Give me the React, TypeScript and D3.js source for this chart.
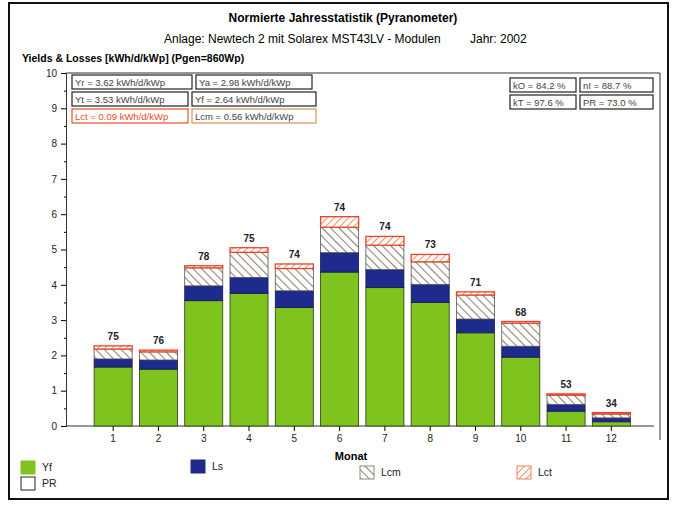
import React, { useEffect, useRef } from 'react';
import * as d3 from 'd3';

// monthly values (kWh/d/kWp)
const months = ['1', '2', '3', '4', '5', '6', '7', '8', '9', '10', '11', '12'];
const yf = [1.67, 1.61, 3.55, 3.76, 3.36, 4.36, 3.92, 3.5, 2.64, 1.95, 0.42, 0.12];
const ls = [0.23, 0.26, 0.42, 0.45, 0.47, 0.55, 0.51, 0.51, 0.39, 0.31, 0.19, 0.11];
const lcm = [0.28, 0.23, 0.51, 0.71, 0.63, 0.72, 0.69, 0.64, 0.68, 0.65, 0.26, 0.11];
const lct = [0.09, 0.05, 0.06, 0.13, 0.13, 0.3, 0.25, 0.21, 0.09, 0.05, 0.04, 0.04];
const pr = [75, 76, 78, 75, 74, 74, 74, 73, 71, 68, 53, 34];
const yTicks = [0, 1, 2, 3, 4, 5, 6, 7, 8, 9, 10];

const infoLeft = [
  ['Yr = 3.62 kWh/d/kWp', 'Ya = 2.98 kWh/d/kWp'],
  ['Yt = 3.53 kWh/d/kWp', 'Yf = 2.64 kWh/d/kWp'],
  ['Lct = 0.09 kWh/d/kWp', 'Lcm = 0.56 kWh/d/kWp'],
];
const infoRight = [
  ['kO = 84.2 %', 'nI = 88.7 %'],
  ['kT = 97.6 %', 'PR = 73.0 %'],
];

const W = 675;
const H = 506;
const FONT = 'Liberation Sans, Arial, sans-serif';

const Chart = () => {
  const ref = useRef<SVGSVGElement>(null);

  useEffect(() => {
    document.body.style.margin = '0';
    const svg = d3.select(ref.current);
    svg.selectAll('*').remove();

    const left = 66, right = 660, top = 73, bottom = 426;

    // hatch patterns
    const defs = svg.append('defs');
    const pLcm = defs.append('pattern').attr('id', 'lcm').attr('patternUnits', 'userSpaceOnUse')
      .attr('width', 6).attr('height', 6).attr('patternTransform', 'rotate(-45)');
    pLcm.append('rect').attr('width', 6).attr('height', 6).attr('fill', '#fff');
    pLcm.append('line').attr('x1', 0).attr('y1', 0).attr('x2', 0).attr('y2', 6)
      .attr('stroke', '#8f8676').attr('stroke-width', 2.2);
    const pLct = defs.append('pattern').attr('id', 'lct').attr('patternUnits', 'userSpaceOnUse')
      .attr('width', 5).attr('height', 5).attr('patternTransform', 'rotate(45)');
    pLct.append('rect').attr('width', 5).attr('height', 5).attr('fill', '#fff');
    pLct.append('line').attr('x1', 0).attr('y1', 0).attr('x2', 0).attr('y2', 5)
      .attr('stroke', '#f2804e').attr('stroke-width', 1.8);

    // outer frame
    svg.append('rect').attr('x', 9).attr('y', 3).attr('width', 659).attr('height', 496)
      .attr('fill', '#fff').attr('stroke', '#111').attr('stroke-width', 2);

    // titles
    svg.append('text').attr('x', 343).attr('y', 22).attr('text-anchor', 'middle')
      .style('font-family', FONT).style('font-size', '12px').style('font-weight', 'bold')
      .text('Normierte Jahresstatistik (Pyranometer)');
    svg.append('text').attr('x', 164).attr('y', 43)
      .style('font-family', FONT).style('font-size', '12px')
      .text('Anlage: Newtech 2 mit Solarex MST43LV - Modulen');
    svg.append('text').attr('x', 470).attr('y', 43)
      .style('font-family', FONT).style('font-size', '12px')
      .text('Jahr: 2002');
    svg.append('text').attr('x', 22).attr('y', 62)
      .style('font-family', FONT).style('font-size', '10.5px').style('font-weight', 'bold')
      .text('Yields & Losses [kWh/d/kWp] (Pgen=860Wp)');

    const x = d3.scaleBand().domain(months).range([90.5, 634]).paddingInner(0.16).paddingOuter(0.08);
    const y = d3.scaleLinear().domain([0, 10]).range([bottom, top]);

    // plot frame (top and right)
    svg.append('path').attr('d', `M${left},${top}H${right}V${bottom + 14}`)
      .attr('fill', 'none').attr('stroke', '#333').attr('stroke-width', 1);

    // y axis
    const yAxis = svg.append('g').attr('transform', `translate(${left},0)`)
      .call(d3.axisLeft(y).tickValues(yTicks).tickSize(5).tickPadding(4).tickFormat(d3.format('d')));
    yAxis.selectAll('text').style('font-family', FONT).style('font-size', '10px').attr('fill', '#222');
    yAxis.select('.domain').attr('stroke', '#333');
    svg.append('g').attr('transform', `translate(${left},0)`)
      .call(d3.axisLeft(y).tickValues(d3.range(0.5, 10, 1)).tickSize(2).tickFormat(() => ''))
      .select('.domain').remove();

    // x axis
    const xAxis = svg.append('g').attr('transform', `translate(0,${bottom})`)
      .call(d3.axisBottom(x).tickSize(5).tickPadding(4));
    xAxis.select('.domain').attr('d', `M${left},0H${right - 6}`).attr('stroke', '#333');
    xAxis.selectAll('text').style('font-family', FONT).style('font-size', '10px').attr('fill', '#222');
    svg.append('text').attr('x', 351).attr('y', 460).attr('text-anchor', 'middle')
      .style('font-family', FONT).style('font-size', '11px').style('font-weight', 'bold')
      .text('Monat');

    // stacked bars
    const rows = months.map((m, i) => ({ m, yf: yf[i], ls: ls[i], lcm: lcm[i], lct: lct[i], pr: pr[i] }));
    const keys = ['yf', 'ls', 'lcm', 'lct'];
    const fills: Record<string, string> = { yf: '#7fc31f', ls: '#1e2a8c', lcm: 'url(#lcm)', lct: 'url(#lct)' };
    const strokes: Record<string, string> = { yf: '#2a3a10', ls: '#141a5a', lcm: '#555', lct: '#e8432a' };
    const stack = d3.stack<any>().keys(keys)(rows);
    stack.forEach(layer => {
      svg.append('g').selectAll('rect').data(layer).enter().append('rect')
        .attr('x', d => x(d.data.m)!)
        .attr('width', x.bandwidth())
        .attr('y', d => y(d[1]))
        .attr('height', d => y(d[0]) - y(d[1]))
        .attr('fill', fills[layer.key])
        .attr('stroke', strokes[layer.key])
        .attr('stroke-width', layer.key === 'lct' ? 1.3 : 0.8);
    });

    // PR labels
    svg.append('g').selectAll('text').data(rows).enter().append('text')
      .attr('x', d => x(d.m)! + x.bandwidth() / 2)
      .attr('y', d => y(d.yf + d.ls + d.lcm + d.lct) - 6)
      .attr('text-anchor', 'middle')
      .style('font-family', FONT).style('font-size', '10px').style('font-weight', 'bold')
      .attr('fill', '#222')
      .text(d => d.pr);

    // info boxes
    const boxW = [[120, 116], [116, 124], [116, 124]];
    infoLeft.forEach((row, r) => {
      let bx = 72;
      row.forEach((t, c) => {
        const red = r === 2;
        const col = red ? (c === 0 ? '#f04a2c' : '#d8935a') : '#222';
        svg.append('rect').attr('x', bx).attr('y', 75 + r * 17).attr('width', boxW[r][c]).attr('height', 14)
          .attr('fill', '#fff').attr('stroke', col).attr('stroke-width', 1.2);
        svg.append('text').attr('x', bx + 3).attr('y', 86 + r * 17)
          .style('font-family', FONT).style('font-size', '9.5px')
          .attr('fill', red && c === 0 ? '#f04a2c' : '#444')
          .text(t);
        bx += boxW[r][c] + 4;
      });
    });
    infoRight.forEach((row, r) => {
      [510, 580].forEach((bx, c) => {
        svg.append('rect').attr('x', bx).attr('y', 78 + r * 17).attr('width', c === 0 ? 66 : 73).attr('height', 14)
          .attr('fill', '#fff').attr('stroke', '#222').attr('stroke-width', 1.2);
        svg.append('text').attr('x', bx + 3).attr('y', 89 + r * 17)
          .style('font-family', FONT).style('font-size', '9.5px').attr('fill', '#444')
          .text(row[c]);
      });
    });

    // legend
    const legend = [
      { label: 'Yf', x: 21, y: 461, fill: '#7fc31f', stroke: '#7fc31f' },
      { label: 'PR', x: 21, y: 477, fill: '#fff', stroke: '#222' },
      { label: 'Ls', x: 191, y: 460, fill: '#1e2a8c', stroke: '#1e2a8c' },
      { label: 'Lcm', x: 360, y: 466, fill: 'url(#lcm)', stroke: '#8f8676' },
      { label: 'Lct', x: 517, y: 466, fill: 'url(#lct)', stroke: '#f2804e' },
    ];
    legend.forEach(l => {
      svg.append('rect').attr('x', l.x).attr('y', l.y).attr('width', 14).attr('height', 13)
        .attr('fill', l.fill).attr('stroke', l.stroke).attr('stroke-width', 1);
      svg.append('text').attr('x', l.x + 21).attr('y', l.y + 10)
        .style('font-family', FONT).style('font-size', '10.5px').attr('fill', '#222')
        .text(l.label);
    });
  }, []);

  return <svg ref={ref} width={W} height={H} style={{ display: 'block' }}></svg>;
};

export default function App() {
  return <Chart />;
}
